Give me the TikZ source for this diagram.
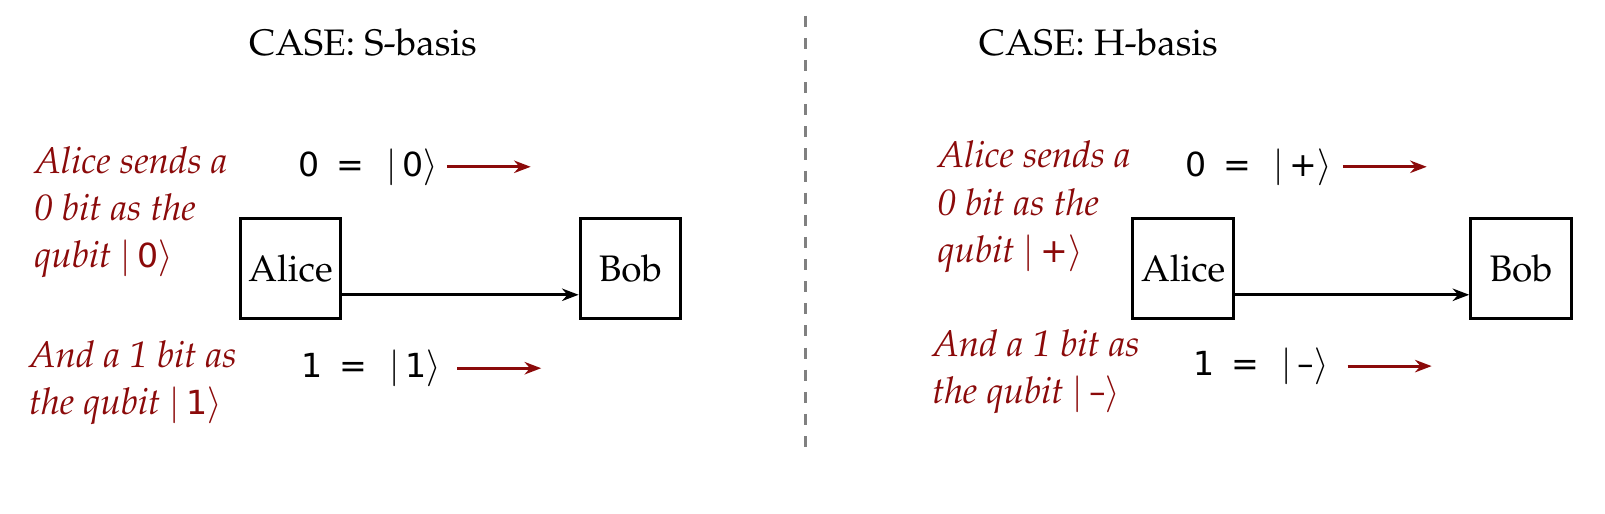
\documentclass[tikz,border=0pt]{standalone}
\usepackage[T1]{fontenc}
\usepackage{fontspec}
\usetikzlibrary{arrows.meta}
\newfontfamily\bitfont[Scale=0.9]{DejaVu Sans}
\newcommand\palfont{\fontencoding{T1}\fontfamily{ppl}\selectfont}
\newcommand\qket[1]{$\vert$\,{\bitfont\upshape #1}$\rangle$}
\newcommand\bitis[2]{{\bitfont #1}\hspace{4.5pt}{\bitfont =}\hspace{6pt}\qket{#2}}
\definecolor{darkred}{RGB}{139,10,10}
\begin{document}
\begin{tikzpicture}[
  every node/.style={font=\palfont},
  party/.style={draw,line width=0.8pt,minimum size=0.96cm,inner sep=0pt},
  note/.style={text=darkred,font=\palfont\itshape\fontsize{10}{12.8}\selectfont,align=left,inner sep=0pt,anchor=north west},
  send/.style={-{Stealth[length=4.5pt]},line width=0.8pt},
  redsend/.style={send,darkred}
]
  \useasboundingbox (0,0) rectangle (15.3,-4.898);
  % S-basis
  \node (titleS) at (3.46,-0.41) {CASE: S-basis};
  \node[party] (aliceS) at (2.77,-2.56) {Alice};
  \node[party] (bobS) at (6.01,-2.56) {Bob};
  \draw[send] ([yshift=-0.25cm]aliceS.east) -- ([yshift=-0.25cm]bobS.west);
  \node (zeroS) at (3.51,-1.59) {\bitis{0}{0}};
  \node (oneS) at (3.54,-3.51) {\bitis{1}{1}};
  \draw[redsend] ([xshift=-0.4mm]zeroS.east) -- ++(0.8,0);
  \draw[redsend] ([xshift=0.3mm]oneS.east) -- ++(0.8,0);
  \node[note] (zeronoteS) at (0.32,-1.39) {Alice sends a\\0 bit as the\\qubit \qket{0}};
  \node[note] (onenoteS) at (0.27,-3.24) {And a 1 bit as\\the qubit \qket{1}};
  % divider
  \coordinate (top) at (7.68,-0.15);
  \coordinate (bottom) at (7.68,-4.34);
  \draw[gray,dashed,line width=0.8pt] (top) -- (bottom);
  % H-basis
  \node (titleH) at (10.47,-0.41) {CASE: H-basis};
  \node[party] (aliceH) at (11.28,-2.56) {Alice};
  \node[party] (bobH) at (14.50,-2.56) {Bob};
  \draw[send] ([yshift=-0.25cm]aliceH.east) -- ([yshift=-0.25cm]bobH.west);
  \node (zeroH) at (12.0,-1.59) {\bitis{0}{+}};
  \node (oneH) at (12.02,-3.49) {\bitis{1}{–}};
  \draw[redsend] ([xshift=-0.2mm]zeroH.east) -- ++(0.8,0);
  \draw[redsend] ([xshift=0.6mm]oneH.east) -- ++(0.8,0);
  \node[note] (zeronoteH) at (8.93,-1.34) {Alice sends a\\0 bit as the\\qubit \qket{+}};
  \node[note] (onenoteH) at (8.88,-3.14) {And a 1 bit as\\the qubit \qket{–}};
\end{tikzpicture}
\end{document}
